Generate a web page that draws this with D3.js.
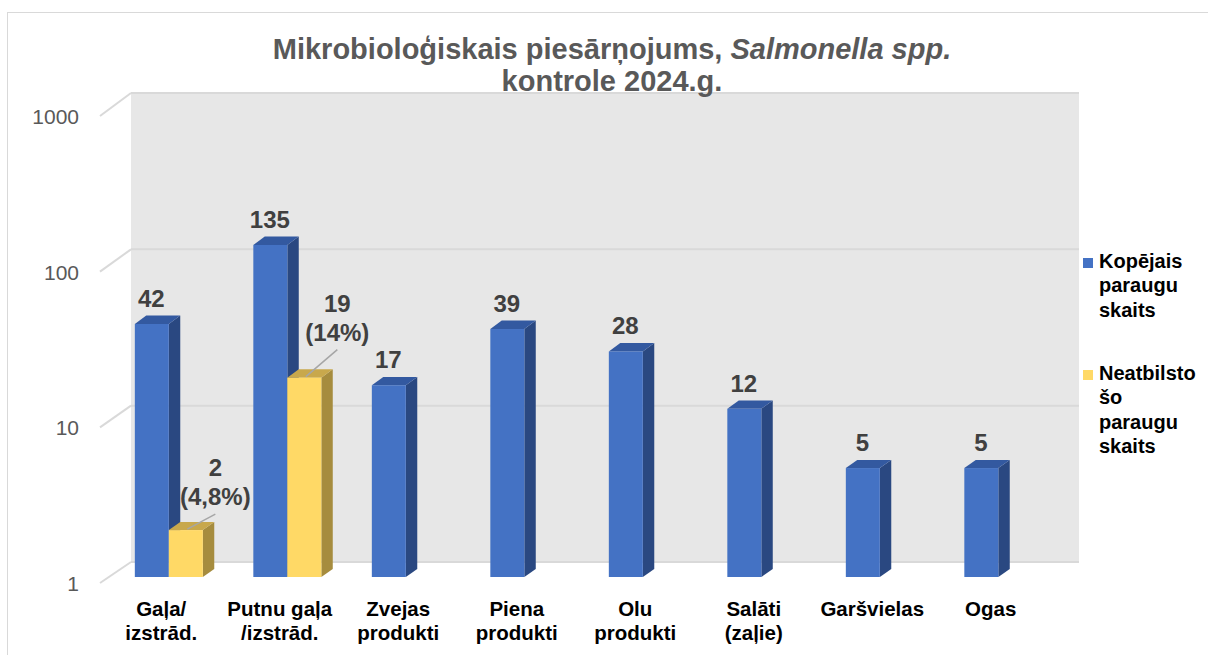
<!DOCTYPE html>
<html>
<head>
<meta charset="utf-8">
<script src="https://cdn.jsdelivr.net/npm/d3@7"></script>
<style>
  body { margin: 0; background: #fff; }
  svg { display: block; font-family: 'Liberation Sans', Arial, sans-serif; }
</style>
</head>
<body>
<svg id="chart"></svg>
<script>
(function () {
  // Data
  var categories = ['Gaļa/ izstrād.', 'Putnu gaļa /izstrād.', 'Zvejas produkti', 'Piena produkti',
    'Olu produkti', 'Salāti (zaļie)', 'Garšvielas', 'Ogas']
  var categoryLines = [['Gaļa/', 'izstrād.'], ['Putnu gaļa', '/izstrād.'], ['Zvejas', 'produkti'],
    ['Piena', 'produkti'], ['Olu', 'produkti'], ['Salāti', '(zaļie)'], ['Garšvielas'], ['Ogas']]
  var totalSamples = [42, 135, 17, 39, 28, 12, 5, 5]
  var nonconformSamples = [2, 19, null, null, null, null, null, null]
  var nonconformPct = ['(4,8%)', '(14%)', null, null, null, null, null, null]
  var seriesNames = [['Kopējais', 'paraugu', 'skaits'], ['Neatbilsto', 'šo', 'paraugu', 'skaits']]
  var tickValues = [1, 10, 100, 1000]

  // Layout
  var WIDTH = 1208
  var HEIGHT = 655
  var DEPTH_X = 30
  var FRONT_D = 0.286
  var BACK_D = 0.667
  var BAR_W = 34
  var BLUE = { front: '#4472C4', side: '#2A4881', top: '#3359A0' }
  var YELLOW = { front: '#FFD966', side: '#A68C3E', top: '#C8A84C' }
  var GRID = '#d9d9d9'
  // manual offsets of the leader-line labels: [dx from bar centre, baseline above bar top]
  var pctLabelOffsets = [[29.5, 25], [33, 37]]

  var svg = d3.select('#chart').attr('width', WIDTH).attr('height', HEIGHT)

  var x = d3.scaleBand().domain(categories).range([101, 1049])
  var yFront = d3.scaleLog().domain([1, 1000]).range([583, 116])
  var yBack = d3.scaleLog().domain([1, 1000]).range([562, 93])

  function px(xv, d) { return xv + DEPTH_X * d }
  function py(v, d) { return yFront(v) * (1 - d) + yBack(v) * d }

  // outer border
  svg.append('rect')
    .attr('x', 7.5).attr('y', 12.5)
    .attr('width', 1400).attr('height', 800)
    .attr('fill', 'none').attr('stroke', GRID)

  // back wall
  var wallX0 = px(x.range()[0], 1)
  var wallX1 = px(x.range()[1], 1)
  svg.append('rect')
    .attr('x', wallX0).attr('y', yBack(1000))
    .attr('width', wallX1 - wallX0).attr('height', yBack(1) - yBack(1000))
    .attr('fill', '#e7e7e7')

  // grid lines + side diagonals
  var grid = svg.append('g').attr('stroke', GRID).attr('stroke-width', 2)
  grid.selectAll('line.h')
    .data(tickValues)
    .enter().append('line')
    .attr('class', 'h')
    .attr('x1', wallX0).attr('x2', wallX1)
    .attr('y1', function (d) { return yBack(d) })
    .attr('y2', function (d) { return yBack(d) })
  grid.selectAll('line.d')
    .data(tickValues)
    .enter().append('line')
    .attr('class', 'd')
    .attr('x1', x.range()[0] - 1).attr('x2', wallX0)
    .attr('y1', function (d) { return yFront(d) })
    .attr('y2', function (d) { return yBack(d) })

  // tick labels
  svg.append('g')
    .selectAll('text')
    .data(tickValues)
    .enter().append('text')
    .attr('x', 79)
    .attr('y', function (d) { return yFront(d) + 8 })
    .attr('text-anchor', 'end')
    .attr('font-size', 21)
    .attr('fill', '#595959')
    .text(function (d) { return d })

  function drawBar(g, x0, v, colors) {
    var x1 = x0 + BAR_W
    var dd = BACK_D - FRONT_D
    var yb = py(1, FRONT_D)
    var yt = py(v, FRONT_D)
    var dx = DEPTH_X * dd
    var dy = yt - py(v, BACK_D)
    var dyb = yb - py(1, BACK_D)
    g.append('path')
      .attr('d', 'M' + x1 + ',' + yb + 'L' + (x1 + dx) + ',' + (yb - dyb) +
        'L' + (x1 + dx) + ',' + (yt - dy) + 'L' + x1 + ',' + yt + 'Z')
      .attr('fill', colors.side)
    g.append('path')
      .attr('d', 'M' + x0 + ',' + yt + 'L' + (x0 + dx) + ',' + (yt - dy) +
        'L' + (x1 + dx) + ',' + (yt - dy) + 'L' + x1 + ',' + yt + 'Z')
      .attr('fill', colors.top)
    g.append('rect')
      .attr('x', x0).attr('y', yt)
      .attr('width', BAR_W).attr('height', yb - yt)
      .attr('fill', colors.front)
  }

  // bars
  var bars = svg.append('g')
  categories.forEach(function (c, i) {
    var cx = px(x(c) + x.bandwidth() / 2, FRONT_D)
    drawBar(bars, cx - BAR_W, totalSamples[i], BLUE)
    if (nonconformSamples[i] != null) {
      drawBar(bars, cx, nonconformSamples[i], YELLOW)
    }
  })

  // value labels
  var labels = svg.append('g')
    .attr('font-size', 24)
    .attr('font-weight', 'bold')
    .attr('fill', '#404040')
    .attr('text-anchor', 'middle')
  categories.forEach(function (c, i) {
    var cx = px(x(c) + x.bandwidth() / 2, FRONT_D)
    labels.append('text')
      .attr('x', cx - BAR_W / 2 - 0.5)
      .attr('y', py(totalSamples[i], FRONT_D) - 17)
      .text(totalSamples[i])
    if (nonconformSamples[i] != null) {
      var off = pctLabelOffsets[i]
      var bx = cx + BAR_W / 2
      var top = py(nonconformSamples[i], FRONT_D)
      var lx = bx + off[0]
      var base = top - off[1]
      labels.append('text').attr('x', lx).attr('y', base - 29).text(nonconformSamples[i])
      labels.append('text').attr('x', lx).attr('y', base).text(nonconformPct[i])
      svg.append('line')
        .attr('x1', lx).attr('y1', base + 9)
        .attr('x2', bx + 1.5).attr('y2', top - 1)
        .attr('stroke', '#a6a6a6').attr('stroke-width', 1.5)
    }
  })

  // category labels
  svg.append('g')
    .selectAll('text')
    .data(categories)
    .enter().append('text')
    .attr('text-anchor', 'middle')
    .attr('font-size', 20.5)
    .attr('font-weight', 'bold')
    .attr('fill', '#000')
    .each(function (c, i) {
      var el = d3.select(this)
      var cx = x(c) + x.bandwidth() / 2 + 1
      el.selectAll('tspan')
        .data(categoryLines[i])
        .enter().append('tspan')
        .attr('x', cx)
        .attr('y', function (d, j) { return 616 + j * 24 })
        .text(function (d) { return d })
    })

  // title
  var title = svg.append('text')
    .attr('text-anchor', 'middle')
    .attr('font-size', 29)
    .attr('font-weight', 'bold')
    .attr('fill', '#595959')
  var t1 = title.append('tspan').attr('x', 612).attr('y', 59)
  t1.append('tspan').text('Mikrobioloģiskais piesārņojums, ')
  t1.append('tspan').attr('font-style', 'italic').text('Salmonella spp.')
  title.append('tspan').attr('x', 612).attr('y', 91).text('kontrole 2024.g.')

  // legend
  var legendTops = [258, 370]
  var legendColors = [BLUE.front, YELLOW.front]
  var legend = svg.append('g')
    .selectAll('g')
    .data(seriesNames)
    .enter().append('g')
    .attr('transform', function (d, i) { return 'translate(1083,' + legendTops[i] + ')' })
  legend.append('rect')
    .attr('width', 10).attr('height', 10)
    .attr('fill', function (d, i) { return legendColors[i] })
  legend.append('text')
    .attr('font-size', 20)
    .attr('font-weight', 'bold')
    .attr('fill', '#000')
    .selectAll('tspan')
    .data(function (d) { return d })
    .enter().append('tspan')
    .attr('x', 16)
    .attr('y', function (d, j) { return 9.5 + j * 24.5 })
    .text(function (d) { return d })
})()
</script>
</body>
</html>
